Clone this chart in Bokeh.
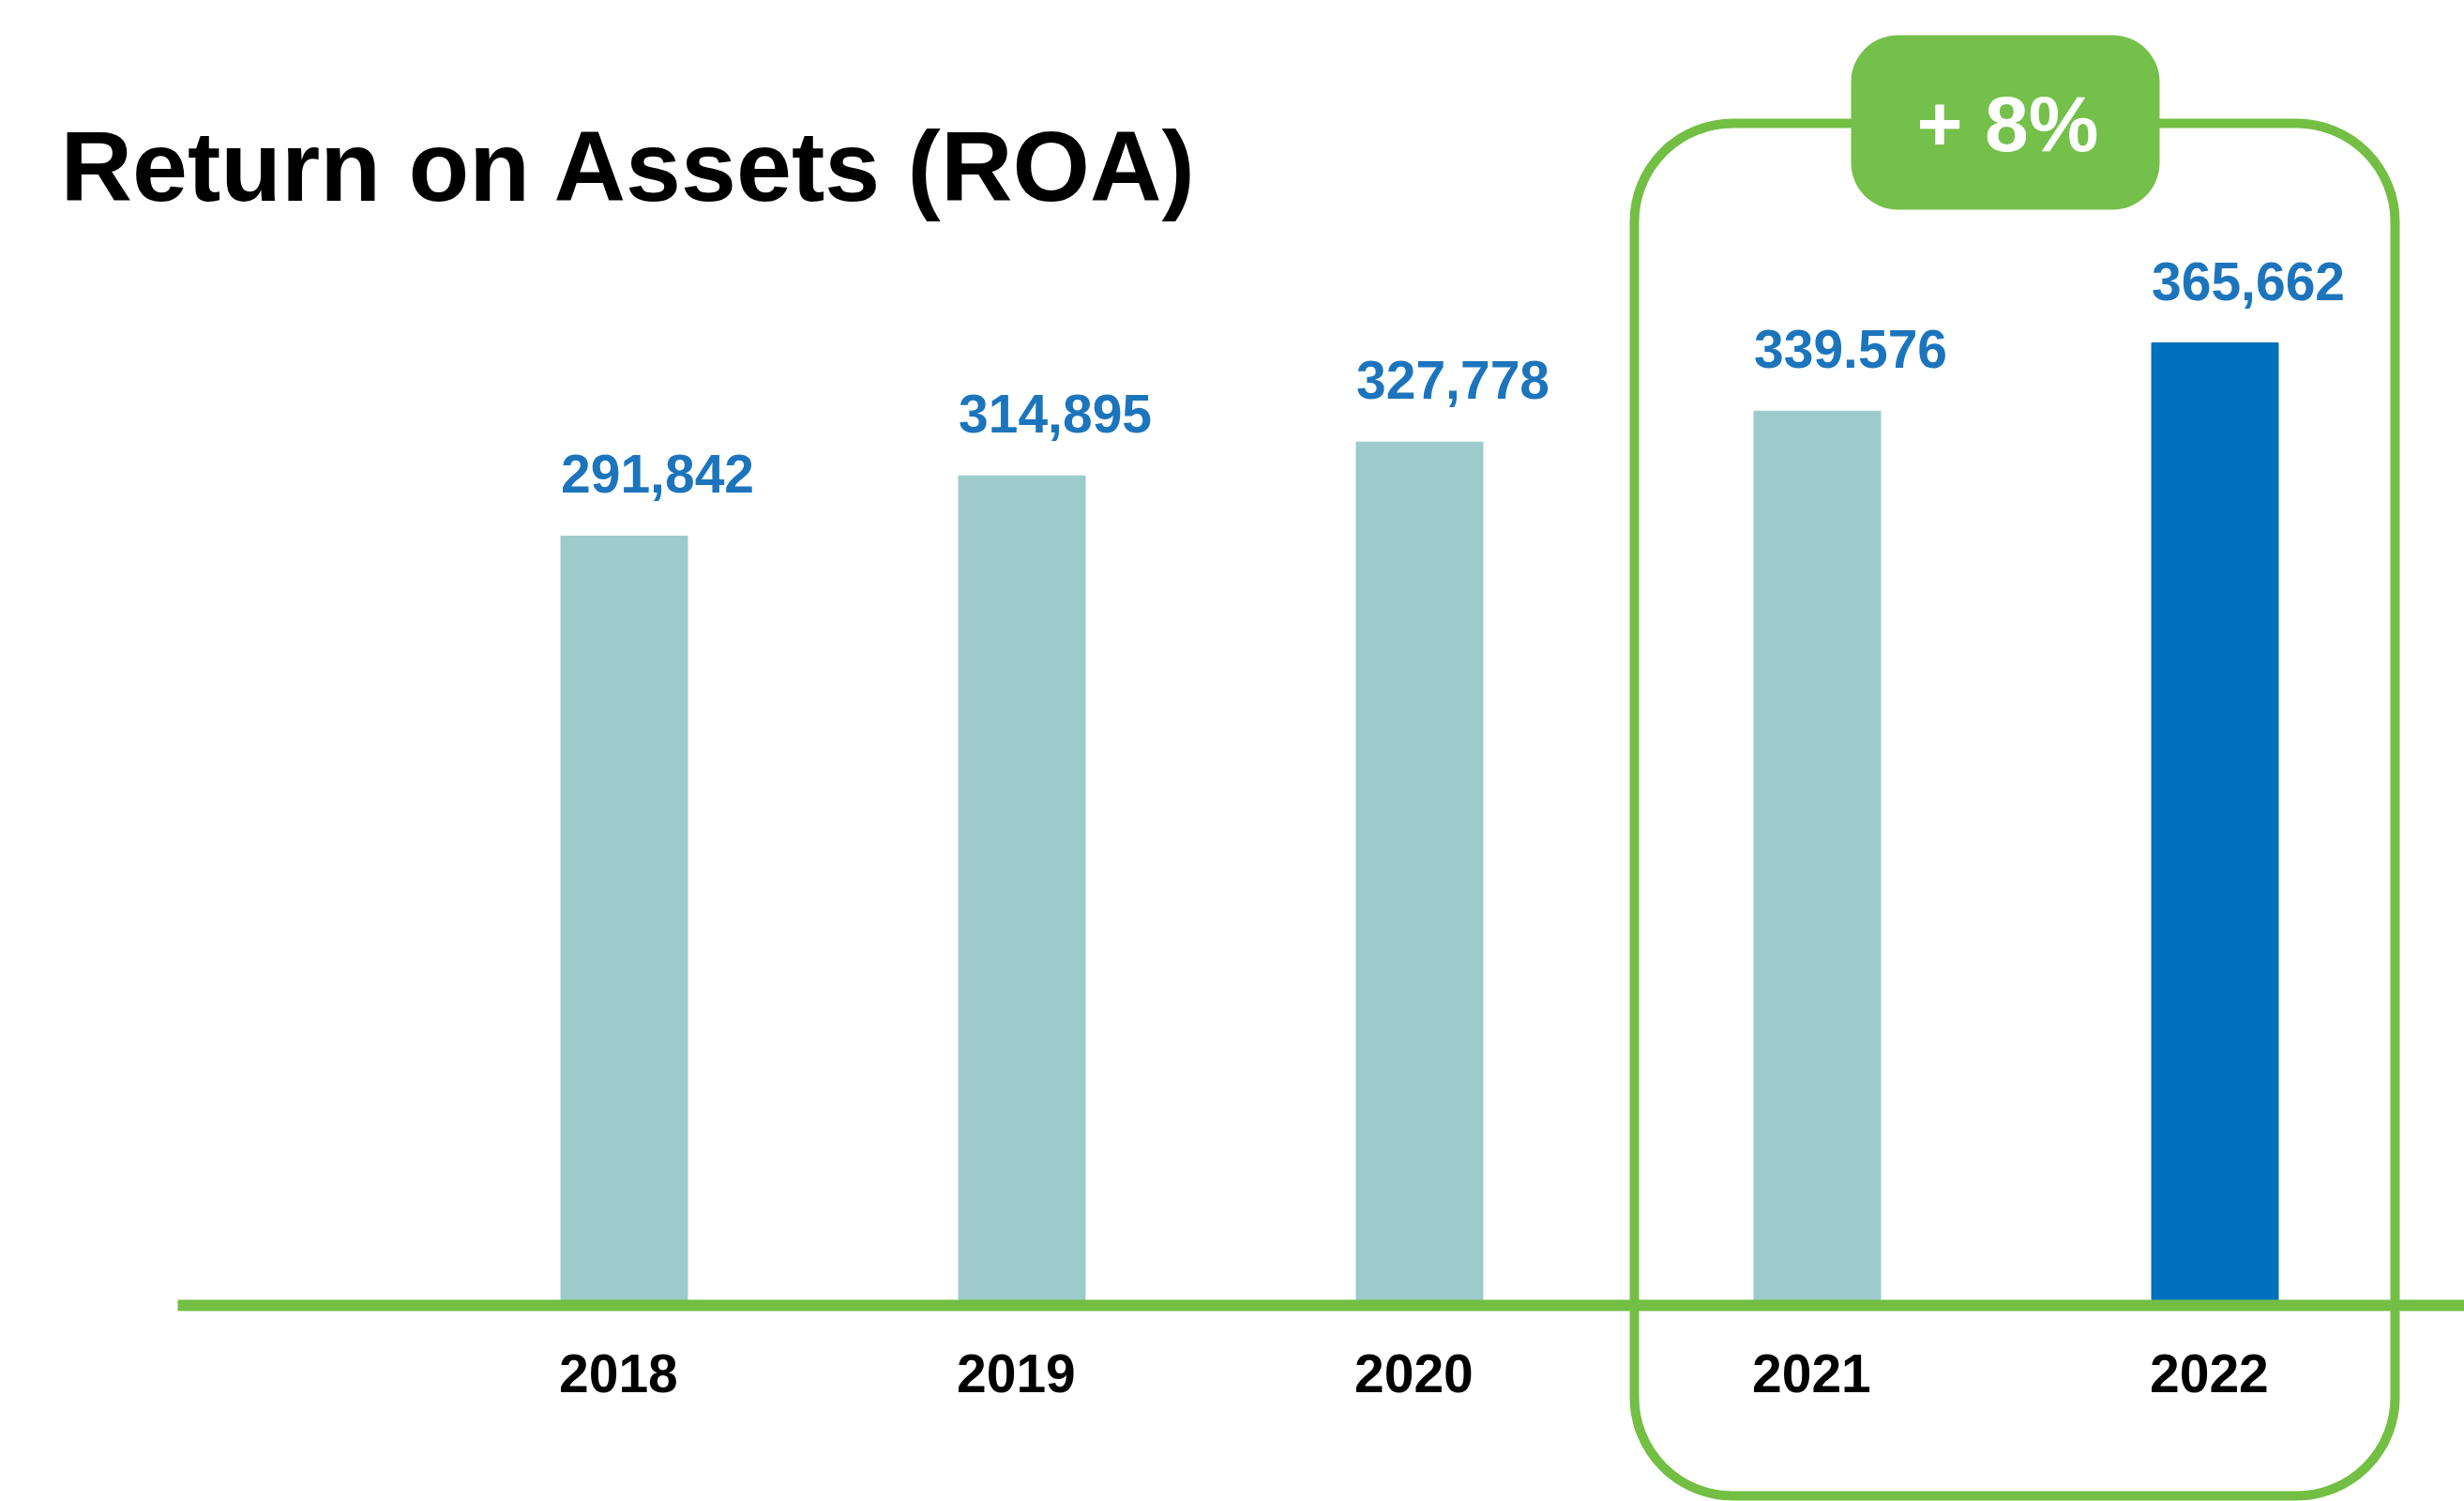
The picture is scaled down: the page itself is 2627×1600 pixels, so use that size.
from bokeh.plotting import figure
from bokeh.models import ColumnDataSource, BoxAnnotation, Label
from bokeh.core.properties import value
from bokeh.embed import file_html
from bokeh.resources import INLINE

# ---- data ----
years = ["2018", "2019", "2020", "2021", "2022"]
roa = [291842, 314895, 327778, 339576, 365662]
value_labels = ["291,842", "314,895", "327,778", "339.576", "365,662"]
title_text = "Return on Assets (ROA)"
badge_text = "+ 8%"

# ---- layout helpers (page pixels -> data) ----
W, H = 2627, 1600
OFF = 0
PX_PER_CAT = 424.0          # horizontal pixels per category
X0_PX = 665.0               # page x pixel of first category centre
UNITS_PER_PX = 358.5        # value units per vertical pixel
BASE_PAGE_Y = 1385.0        # page y of value 0

def px_to_x(px):
    return (px - OFF - X0_PX) / PX_PER_CAT

def px_to_y(py):
    return (BASE_PAGE_Y - py) * UNITS_PER_PX

x_start = px_to_x(OFF)
x_end = px_to_x(OFF + W)
y_end = px_to_y(OFF)
y_start = px_to_y(OFF + H)

GREEN = "#72bf44"
TEAL = "#9dcbcb"
BLUE = "#0071bc"
LABEL_BLUE = "#1c75bc"
FONT = "Liberation Sans"

bar_w = 135.0 / PX_PER_CAT
idx = list(range(len(years)))
colors = [TEAL] * (len(years) - 1) + [BLUE]

src = ColumnDataSource(dict(
    x=idx, top=roa, color=colors, lbl=value_labels, year=years,
    left=[i - bar_w / 2 for i in idx], zero=[0] * len(idx),
))

p = figure(width=W, height=H, output_backend="svg", toolbar_location=None,
           x_range=(x_start, x_end), y_range=(y_start, y_end),
           min_border=0, outline_line_color=None)
p.axis.visible = False
p.grid.visible = False
p.background_fill_color = "white"
p.border_fill_color = "white"

# bars
p.vbar(x="x", top="top", bottom=0, width=bar_w, color="color", source=src)

# baseline
p.segment(x0=[px_to_x(189)], y0=[px_to_y(1391)], x1=[px_to_x(2660)], y1=[px_to_y(1391)],
          line_color=GREEN, line_width=12)

# value labels
p.text(x="left", y="top", text="lbl", source=src, text_color=LABEL_BLUE,
       text_font=value(FONT), text_font_style="bold", text_font_size="57px",
       text_align="left", text_baseline="alphabetic", y_offset=-66)

# year labels
p.text(x="left", y="zero", text="year", source=src, text_color="black",
       text_font=value(FONT), text_font_style="bold", text_font_size="57px",
       text_align="left", text_baseline="alphabetic", x_offset=-2, y_offset=78)

# title
p.text(x=[px_to_x(64)], y=[px_to_y(176)], text=[title_text],
       text_color="black", text_font=value(FONT), text_font_style="bold",
       text_font_size="106px", text_align="left", text_baseline="alphabetic")

# highlight box
box = BoxAnnotation(left=px_to_x(1742), right=px_to_x(2553),
                    top=px_to_y(131), bottom=px_to_y(1594),
                    fill_color=None, fill_alpha=0, line_color=GREEN,
                    line_alpha=1.0, line_width=10, border_radius=105)
p.add_layout(box)

# badge
badge = BoxAnnotation(left=px_to_x(1973), right=px_to_x(2302),
                      top=px_to_y(37), bottom=px_to_y(223),
                      fill_color="#74c04a", fill_alpha=1.0, line_color=None,
                      border_radius=50)
p.add_layout(badge)
p.add_layout(Label(x=px_to_x(2140), y=px_to_y(131), text=badge_text,
                   text_color="white", text_font=FONT, text_font_style="bold",
                   text_font_size="84px", text_align="center",
                   text_baseline="alphabetic"))

open("out.html", "w").write(file_html(p, INLINE))
